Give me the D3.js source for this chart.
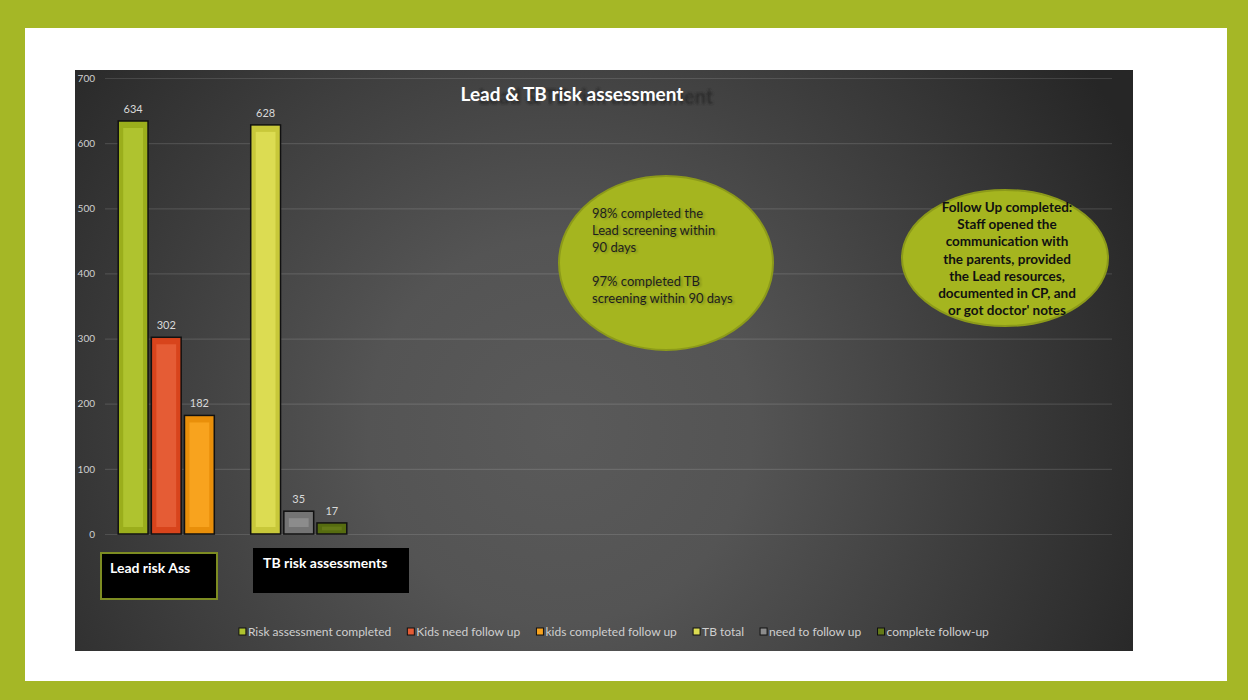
<!DOCTYPE html>
<html>
<head>
<meta charset="utf-8">
<script src="https://cdn.jsdelivr.net/npm/d3@7"></script>
<style>
  body { margin: 0; background: #a5b726; }
  text { font-family: Lato, "Open Sans", sans-serif; }
</style>
</head>
<body>
<div id="chart"></div>
<script>
// data
var categories = ["Lead risk Ass", "TB risk assessments"];
var leadSeries = ["Risk assessment completed", "Kids need follow up", "kids completed follow up"];
var leadValues = [634, 302, 182];
var tbSeries = ["TB total", "need to follow up", "complete follow-up"];
var tbValues = [628, 35, 17];
var yTicks = [0, 100, 200, 300, 400, 500, 600, 700];
var note1 = ["98% completed the", "Lead screening within", "90 days", "", "97% completed TB", "screening within 90 days"];
var note2 = ["Follow Up completed:", "Staff opened the", "communication with", "the parents, provided", "the Lead resources,", "documented in CP, and", "or got doctor' notes"];

var edgeCol = {
  "Risk assessment completed": "#9bae1c", "Kids need follow up": "#d8441c", "kids completed follow up": "#e98f0a",
  "TB total": "#c8c83a", "need to follow up": "#747474", "complete follow-up": "#566c10"
};
var innerCol = {
  "Risk assessment completed": "#afc32f", "Kids need follow up": "#e55c35", "kids completed follow up": "#f8a31e",
  "TB total": "#dcdc52", "need to follow up": "#8c8c8c", "complete follow-up": "#647a18"
};

var W = 1248, H = 700;
var svg = d3.select("#chart").append("svg").attr("width", W).attr("height", H);
var defs = svg.append("defs");

var rg = defs.append("radialGradient").attr("id", "bg").attr("gradientUnits", "userSpaceOnUse")
  .attr("cx", 560).attr("cy", 430).attr("r", 640);
rg.append("stop").attr("offset", "0").attr("stop-color", "#5a5a5a");
rg.append("stop").attr("offset", "0.3").attr("stop-color", "#545454");
rg.append("stop").attr("offset", "1").attr("stop-color", "#262626");
defs.append("filter").attr("id", "blur").append("feGaussianBlur").attr("stdDeviation", 1.2);

// frame
svg.append("rect").attr("width", W).attr("height", H).attr("fill", "#a5b726");
svg.append("rect").attr("x", 25).attr("y", 28).attr("width", 1202).attr("height", 653).attr("fill", "#ffffff");
svg.append("rect").attr("x", 75).attr("y", 70).attr("width", 1058).attr("height", 581).attr("fill", "url(#bg)");

var plotL = 105, plotR = 1112;
var y = d3.scaleLinear().domain([0, 700]).range([534, 78]);
var x = d3.scaleBand().domain(categories).range([100, 365]).paddingInner(0.275).paddingOuter(0.1375);
var slot = d3.scaleBand().domain([0, 1, 2]).range([0, x.bandwidth()]).paddingInner(0.1);

var yAxis = d3.axisLeft(y).tickValues(yTicks).tickSize(-(plotR - plotL)).tickPadding(10);
var ga = svg.append("g").attr("transform", "translate(" + plotL + ",0)").call(yAxis);
ga.select(".domain").remove();
ga.selectAll(".tick line").attr("stroke", "rgba(255,255,255,0.12)").attr("stroke-width", 1.2);
ga.selectAll(".tick text").attr("fill", "#d0d0d0").attr("font-size", 10).style("font-family", "Lato, sans-serif");

// title with faint ghost behind it
svg.append("text").attr("x", 596).attr("y", 104).attr("text-anchor", "middle")
  .attr("font-size", 20).attr("font-weight", "bold").attr("fill", "#2c2c2c")
  .attr("filter", "url(#blur)").text("Lead & TB risk assessment");
svg.append("text").attr("x", 572).attr("y", 101).attr("text-anchor", "middle")
  .attr("font-size", 19).attr("font-weight", "bold").attr("fill", "#ffffff")
  .text("Lead & TB risk assessment");

var rows = [];
leadSeries.forEach(function(s, i) { rows.push({cat: categories[0], i: i, name: s, value: leadValues[i]}); });
tbSeries.forEach(function(s, i) { rows.push({cat: categories[1], i: i, name: s, value: tbValues[i]}); });

var bars = svg.append("g").selectAll("g").data(rows).enter().append("g");
bars.append("rect")
  .attr("x", function(d) { return x(d.cat) + slot(d.i); })
  .attr("y", function(d) { return y(d.value); })
  .attr("width", slot.bandwidth())
  .attr("height", function(d) { return y(0) - y(d.value); })
  .attr("fill", function(d) { return edgeCol[d.name]; })
  .attr("stroke", "#111").attr("stroke-width", 1.5);
bars.append("rect")
  .attr("x", function(d) { return x(d.cat) + slot(d.i) + 5; })
  .attr("y", function(d) { return y(d.value) + Math.min(7, (y(0) - y(d.value)) / 3); })
  .attr("width", slot.bandwidth() - 10)
  .attr("height", function(d) { var h = y(0) - y(d.value); return Math.max(0, h - 2 * Math.min(7, h / 3)); })
  .attr("fill", function(d) { return innerCol[d.name]; });
bars.append("text")
  .attr("x", function(d) { return x(d.cat) + slot(d.i) + slot.bandwidth() / 2; })
  .attr("y", function(d) { return y(d.value) - 8; })
  .attr("text-anchor", "middle").attr("font-size", 11).attr("fill", "#d9d9d9")
  .text(function(d) { return d.value; });

// category boxes
svg.append("rect").attr("x", 101).attr("y", 553).attr("width", 116).attr("height", 46)
  .attr("fill", "#000").attr("stroke", "#7d8c22").attr("stroke-width", 2);
svg.append("text").attr("x", 110).attr("y", 573).attr("font-size", 14).attr("font-weight", "bold")
  .attr("fill", "#fff").text(categories[0]);
svg.append("rect").attr("x", 253).attr("y", 548).attr("width", 156).attr("height", 45).attr("fill", "#000");
svg.append("text").attr("x", 263).attr("y", 568).attr("font-size", 14).attr("font-weight", "bold")
  .attr("fill", "#fff").text(categories[1]);

// note bubbles
svg.append("ellipse").attr("cx", 666).attr("cy", 263).attr("rx", 107).attr("ry", 87)
  .attr("fill", "#a5b51f").attr("stroke", "#8c9a1a").attr("stroke-width", 2);
var t1 = svg.append("g");
note1.forEach(function(s, i) {
  t1.append("text").attr("x", 594).attr("y", 219 + i * 17).attr("font-size", 13)
    .attr("fill", "#000").attr("opacity", 0.25).attr("filter", "url(#blur)").text(s);
  t1.append("text").attr("x", 592).attr("y", 218 + i * 17).attr("font-size", 13)
    .attr("fill", "#1e1e1e").text(s);
});

svg.append("ellipse").attr("cx", 1005).attr("cy", 258).attr("rx", 103).attr("ry", 68)
  .attr("fill", "#a5b51f").attr("stroke", "#8c9a1a").attr("stroke-width", 2);
note2.forEach(function(s, i) {
  svg.append("text").attr("x", 1007).attr("y", 212 + i * 17.2).attr("text-anchor", "middle")
    .attr("font-size", 13.5).attr("font-weight", "bold").attr("fill", "#111").text(s);
});

// legend
var allSeries = leadSeries.concat(tbSeries);
var lg = svg.append("g");
var items = lg.selectAll("g").data(allSeries).enter().append("g");
items.append("rect").attr("x", 0).attr("y", -4).attr("width", 7).attr("height", 7)
  .attr("fill", function(d) { return innerCol[d]; }).attr("stroke", "#111").attr("stroke-width", 1);
items.append("text").attr("x", 9).attr("y", 4).attr("font-size", 12).attr("fill", "#cfcfcf")
  .text(function(d) { return d; });
var pos = 0, offs = [];
items.each(function() { offs.push(pos); pos += this.getBBox().width + 16; });
var lx = 614 - (pos - 16) / 2;
items.attr("transform", function(d, i) { return "translate(" + (lx + offs[i]) + ",632)"; });
</script>
</body>
</html>
